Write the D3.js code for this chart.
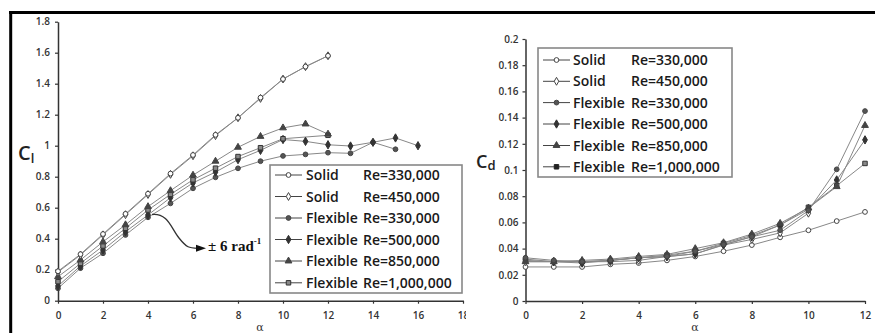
<!DOCTYPE html>
<html><head><meta charset="utf-8">
<script src="https://cdn.jsdelivr.net/npm/d3@7"></script>
<style>
html,body{margin:0;padding:0;background:#fff;}
svg{display:block;font-family:"Open Sans",sans-serif;}
</style></head><body>
<svg id="chart" width="875" height="333"></svg>
<script>
// ---------- lift coefficient panel ----------
const clAlphaSolid = [0,1,2,3,4,5,6,7,8,9,10,11,12];
const clSolid330 = [0.19,0.30,0.43,0.56,0.69,0.82,0.94,1.07,1.18,1.31,1.43,1.51,1.58];
const clSolid450 = [0.185,0.295,0.425,0.555,0.685,0.815,0.935,1.065,1.18,1.305,1.43,1.51,1.58];
const clAlphaFlex330 = [0,1,2,3,4,5,6,7,8,9,10,11,12,13,14,15];
const clFlex330 = [0.08,0.21,0.306,0.424,0.538,0.628,0.725,0.796,0.854,0.90,0.934,0.944,0.955,0.951,1.022,0.977];
const clAlphaFlex500 = [0,1,2,3,4,5,6,7,8,9,10,11,12,13,14,15,16];
const clFlex500 = [0.095,0.224,0.327,0.445,0.553,0.665,0.76,0.83,0.91,0.97,1.04,1.028,1.006,0.998,1.022,1.05,1.0];
const clAlphaFlex850 = [0,1,2,3,4,5,6,7,8,9,10,11,12];
const clFlex850 = [0.155,0.263,0.38,0.49,0.607,0.71,0.81,0.90,0.99,1.06,1.115,1.14,1.075];
const clAlphaFlex1000 = [0,1,2,3,4,5,6,7,8,9,10,12];
const clFlex1000 = [0.123,0.241,0.353,0.467,0.585,0.686,0.78,0.855,0.93,0.987,1.045,1.067];
const clXTicks = [0,2,4,6,8,10,12,14,16,18];
const clYTicks = [0,0.2,0.4,0.6,0.8,1,1.2,1.4,1.6,1.8];
const clYTickLabels = ["0","0.2","0.4","0.6","0.8","1","1.2","1.4","1.6","1.8"];

// ---------- drag coefficient panel ----------
const cdAlpha = [0,1,2,3,4,5,6,7,8,9,10,11,12];
const cdAlphaSolid450 = [0,1,2,3,4,5,6,7,8,9,10];
const cdSolid330 = [0.026,0.026,0.026,0.028,0.029,0.031,0.034,0.038,0.0427,0.0486,0.054,0.061,0.068];
const cdSolid450 = [0.030,0.030,0.030,0.030,0.031,0.034,0.036,0.0427,0.047,0.052,0.067];
const cdFlex330 = [0.033,0.031,0.030,0.031,0.033,0.034,0.038,0.043,0.049,0.054,0.069,0.1005,0.145];
const cdFlex500 = [0.032,0.030,0.029,0.031,0.033,0.0338,0.036,0.043,0.049,0.058,0.070,0.0924,0.123];
const cdFlex850 = [0.030,0.030,0.031,0.032,0.034,0.0356,0.040,0.0445,0.0511,0.0593,0.071,0.0873,0.134];
const cdFlex1000 = [0.031,0.030,0.030,0.031,0.033,0.035,0.038,0.044,0.050,0.058,0.0715,0.088,0.105];
const cdXTicks = [0,2,4,6,8,10,12];
const cdYTicks = [0,0.02,0.04,0.06,0.08,0.1,0.12,0.14,0.16,0.18,0.2];
const cdYTickLabels = ["0","0.02","0.04","0.06","0.08","0.1","0.12","0.14","0.16","0.18","0.2"];

// ---------- legend ----------
const legendKinds = ["Solid","Solid","Flexible","Flexible","Flexible","Flexible"];
const legendRe = ["Re=330,000","Re=450,000","Re=330,000","Re=500,000","Re=850,000","Re=1,000,000"];

const svg = d3.select("#chart");
svg.append("rect").attr("width",875).attr("height",333).attr("fill","#fff");

// marker styles per legend entry
const markerStyles = [
  {type:d3.symbolCircle, size:18, fill:"#fff", stroke:"#444"},
  {type:d3.symbolDiamond, size:18, fill:"#fff", stroke:"#444"},
  {type:d3.symbolCircle, size:18, fill:"#555", stroke:"#444"},
  {type:d3.symbolDiamond, size:20, fill:"#333", stroke:"#333"},
  {type:d3.symbolTriangle, size:20, fill:"#444", stroke:"#444"},
  {type:d3.symbolSquare, size:20, fill:"#888", stroke:"#333"}
];

function drawPanel(g, x, y, series, lineColor) {
  const line = d3.line().x(d => x(d[0])).y(d => y(d[1]));
  series.forEach(s => {
    const pts = s.alpha.map((a, k) => [a, s.values[k]]);
    g.append("path").datum(pts).attr("d", line)
      .attr("fill","none").attr("stroke", lineColor).attr("stroke-width",1);
  });
  series.forEach(s => {
    const st = markerStyles[s.style];
    const pts = s.alpha.map((a, k) => [a, s.values[k]]);
    g.selectAll(null).data(pts).enter().append("path")
      .attr("d", d3.symbol().type(st.type).size(st.size))
      .attr("transform", d => `translate(${x(d[0])},${y(d[1])})`)
      .attr("fill", st.fill).attr("stroke", st.stroke).attr("stroke-width",1);
  });
}

function styleAxis(ax) {
  ax.attr("font-family",null);
  ax.select(".domain").attr("stroke","#333").attr("stroke-width",1.5);
  ax.selectAll(".tick line").attr("stroke","#333").attr("stroke-width",1.2);
  ax.selectAll(".tick text").attr("fill","#333").attr("font-size",10).attr("font-weight",600);
}

function drawLegend(g, x0, y0, w, h, rowY, textX, reX, styles) {
  g.append("rect").attr("x",x0).attr("y",y0).attr("width",w).attr("height",h)
    .attr("fill","#fff").attr("stroke","#888").attr("stroke-width",1.6);
  legendKinds.forEach((k, i) => {
    const yy = rowY[i];
    g.append("line").attr("x1",x0+5).attr("x2",x0+32).attr("y1",yy).attr("y2",yy)
      .attr("stroke","#444").attr("stroke-width",1);
    const st = styles[i];
    g.append("path").attr("d", d3.symbol().type(st.type).size(st.size))
      .attr("transform",`translate(${x0+18.5},${yy})`)
      .attr("fill",st.fill).attr("stroke",st.stroke).attr("stroke-width",1);
    g.append("text").attr("x",textX).attr("y",yy).attr("dy","0.36em")
      .attr("font-size",14).attr("font-weight",600).attr("fill","#1a1a1a").text(k);
    g.append("text").attr("x",reX).attr("y",yy).attr("dy","0.36em")
      .attr("font-size",14).attr("font-weight",600).attr("fill","#1a1a1a").text(legendRe[i]);
  });
}

// ===== left panel (C_l) =====
svg.append("clipPath").attr("id","leftClip").append("rect")
  .attr("x",0).attr("y",0).attr("width",466).attr("height",333);
const gl = svg.append("g").attr("clip-path","url(#leftClip)");
const xL = d3.scaleLinear([0,18],[58,463]);
const yL = d3.scaleLinear([0,1.8],[300.7,21.7]);

const axLY = gl.append("g").attr("transform","translate(58,0)")
  .call(d3.axisLeft(yL).tickValues(clYTicks).tickFormat((d,i)=>clYTickLabels[i])
    .tickSize(3).tickSizeOuter(0).tickPadding(5));
styleAxis(axLY);
const axLX = gl.append("g").attr("transform","translate(0,300.7)")
  .call(d3.axisBottom(xL).tickValues(clXTicks).tickSize(3).tickSizeOuter(0).tickPadding(8));
styleAxis(axLX);

const clSeries = [
  {alpha:clAlphaFlex330, values:clFlex330, style:2},
  {alpha:clAlphaFlex500, values:clFlex500, style:3},
  {alpha:clAlphaFlex1000, values:clFlex1000, style:5},
  {alpha:clAlphaFlex850, values:clFlex850, style:4},
  {alpha:clAlphaSolid, values:clSolid450, style:1},
  {alpha:clAlphaSolid, values:clSolid330, style:0}
];
drawPanel(gl, xL, yL, clSeries, "#888");

// y-axis title C_l
const tl = gl.append("text").attr("x",18).attr("y",160).attr("font-size",20)
  .attr("font-weight",600).attr("fill","#222");
tl.append("tspan").text("C");
tl.append("tspan").attr("font-size",13).attr("dy",3).text("l");
// x-axis title
gl.append("text").attr("x",260).attr("y",331).attr("text-anchor","middle")
  .style("font-family","'DejaVu Serif',serif").attr("font-size",11).attr("fill","#333").text("α");

// annotation arrow and slope label
gl.append("path").attr("d","M152,214.5 C168,213 171,228 179,238 S189,248 198,248.3")
  .attr("fill","none").attr("stroke","#333").attr("stroke-width",1.3);
gl.append("path").attr("d","M196,244.8 L206,248.3 L196,251.8 Z").attr("fill","#111");
const ann = gl.append("text").attr("x",208).attr("y",251)
  .style("font-family","'Liberation Serif','Times New Roman',serif")
  .attr("font-weight","bold").attr("font-size",15).attr("fill","#111");
ann.append("tspan").text("± 6 rad");
ann.append("tspan").attr("font-size",9).attr("dy",-7).text("-1");

drawLegend(gl, 270, 165, 192, 128, [175,196.5,218,239.5,261,282.8], 306, 363, markerStyles);

// ===== right panel (C_d) =====
const gr = svg.append("g");
const xR = d3.scaleLinear([0,12],[525.5,865]);
const yR = d3.scaleLinear([0,0.2],[301,39]);

const axRY = gr.append("g").attr("transform","translate(525.5,0)")
  .call(d3.axisLeft(yR).tickValues(cdYTicks).tickFormat((d,i)=>cdYTickLabels[i])
    .tickSize(3).tickSizeOuter(0).tickPadding(4));
styleAxis(axRY);
const axRX = gr.append("g").attr("transform","translate(0,301)")
  .call(d3.axisBottom(xR).tickValues(cdXTicks).tickSize(3).tickSizeOuter(0).tickPadding(8));
styleAxis(axRX);

const cdStyles = markerStyles.map((m, i) => i === 5 ? {type:d3.symbolSquare, size:20, fill:"#222", stroke:"#222"} : m);
const cdSeries = [
  {alpha:cdAlpha, values:cdSolid330, style:0},
  {alpha:cdAlphaSolid450, values:cdSolid450, style:1},
  {alpha:cdAlpha, values:cdFlex1000, style:5},
  {alpha:cdAlpha, values:cdFlex500, style:3},
  {alpha:cdAlpha, values:cdFlex850, style:4},
  {alpha:cdAlpha, values:cdFlex330, style:2}
];
drawPanel(gr, xR, yR, cdSeries, "#888");

const td = gr.append("text").attr("x",476).attr("y",168).attr("font-size",18)
  .attr("font-weight",600).attr("fill","#222");
td.append("tspan").text("C");
td.append("tspan").attr("font-size",13).attr("dy",2).text("d");
gr.append("text").attr("x",695).attr("y",331).attr("text-anchor","middle")
  .style("font-family","'DejaVu Serif',serif").attr("font-size",11).attr("fill","#333").text("α");

drawLegend(gr, 538, 48, 194, 129, [60,81.3,102.6,124,145.5,166.8], 573, 631, cdStyles);

// ===== frame =====
svg.append("line").attr("x1",9).attr("x2",875).attr("y1",12.5).attr("y2",12.5)
  .attr("stroke","#000").attr("stroke-width",3);
svg.append("line").attr("x1",10.7).attr("x2",10.7).attr("y1",11).attr("y2",333)
  .attr("stroke","#000").attr("stroke-width",3);
</script>
</body></html>
